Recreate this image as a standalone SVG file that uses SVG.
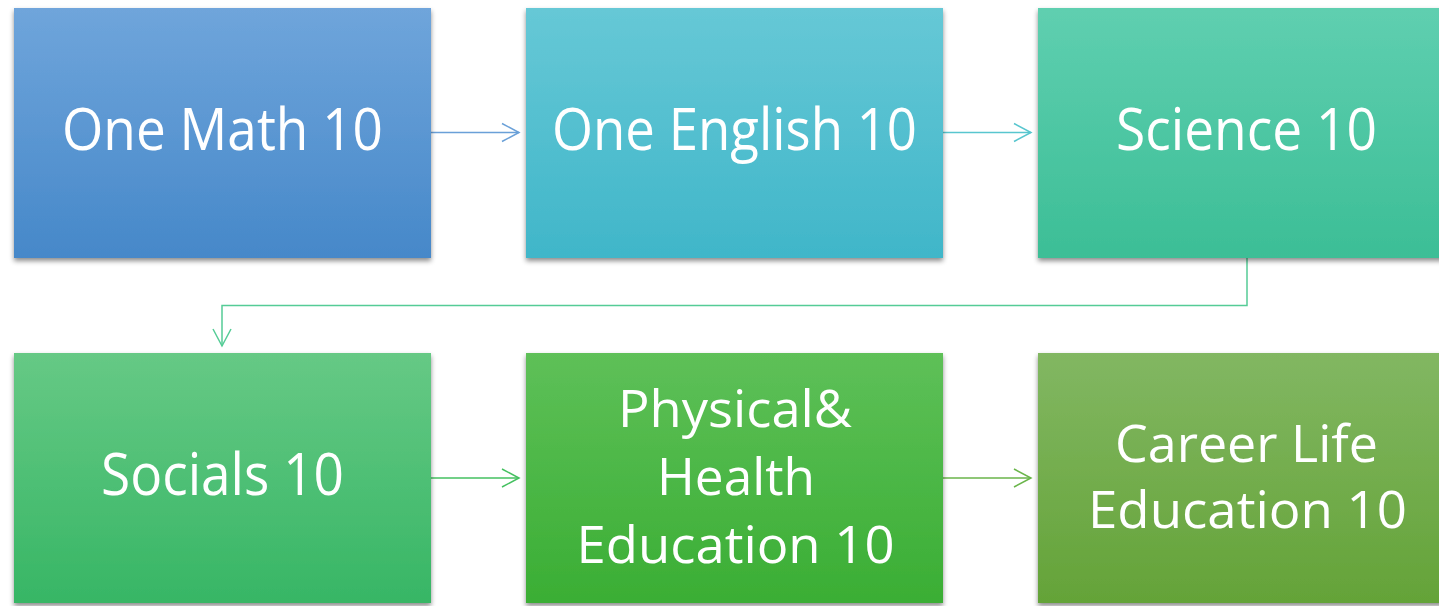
<svg xmlns="http://www.w3.org/2000/svg" width="1439" height="606" viewBox="0 0 1439 606">
<style>
.lbl{font-family:"Open Sans","Liberation Sans",sans-serif;fill:#ffffff;text-anchor:middle}
.big{font-size:59px}
.mid{font-size:52px}
.conn{fill:none;stroke-width:1.5}
</style>
<defs>
<filter id="sh" x="-5%" y="-5%" width="110%" height="115%">
<feDropShadow dx="0" dy="3" stdDeviation="2.5" flood-color="#000" flood-opacity="0.45"/>
</filter>
<linearGradient id="g1" x1="0" y1="0" x2="0" y2="1"><stop offset="0" stop-color="#6fa5db"/><stop offset="1" stop-color="#4688c9"/></linearGradient>
<linearGradient id="g2" x1="0" y1="0" x2="0" y2="1"><stop offset="0" stop-color="#66c8d6"/><stop offset="1" stop-color="#40b6c9"/></linearGradient>
<linearGradient id="g3" x1="0" y1="0" x2="0" y2="1"><stop offset="0" stop-color="#5fcfb0"/><stop offset="1" stop-color="#3cbe96"/></linearGradient>
<linearGradient id="g4" x1="0" y1="0" x2="0" y2="1"><stop offset="0" stop-color="#66c985"/><stop offset="1" stop-color="#37b665"/></linearGradient>
<linearGradient id="g5" x1="0" y1="0" x2="0" y2="1"><stop offset="0" stop-color="#5ec058"/><stop offset="1" stop-color="#3aae34"/></linearGradient>
<linearGradient id="g6" x1="0" y1="0" x2="0" y2="1"><stop offset="0" stop-color="#82b762"/><stop offset="1" stop-color="#64a338"/></linearGradient>
</defs>
<rect width="1439" height="606" fill="#ffffff"/>

<g id="connectors">
<g stroke="#6aa0d8" class="conn"><path d="M431 132.5H519"/><path d="M502 123.5L519 132.5L502 141.5"/></g>
<g stroke="#58c6cf" class="conn"><path d="M943 132.5H1031"/><path d="M1014 123.5L1031 132.5L1014 141.5"/></g>
<g stroke="#55cc96" class="conn"><path d="M1247 258V305.5H222V346"/><path d="M213 329L222 346L231 329"/></g>
<g stroke="#45c060" class="conn"><path d="M431 478H519"/><path d="M502 469L519 478L502 487"/></g>
<g stroke="#6ab54a" class="conn"><path d="M943 478H1031"/><path d="M1014 469L1031 478L1014 487"/></g>
</g>

<g id="n1"><rect x="14" y="8" width="417" height="250" fill="url(#g1)" filter="url(#sh)"/>
<text class="lbl big" x="222.5" y="150" textLength="321" lengthAdjust="spacingAndGlyphs">One Math 10</text></g>
<g id="n2"><rect x="526" y="8" width="417" height="250" fill="url(#g2)" filter="url(#sh)"/>
<text class="lbl big" x="734.5" y="150" textLength="365" lengthAdjust="spacingAndGlyphs">One English 10</text></g>
<g id="n3"><rect x="1038" y="8" width="417" height="250" fill="url(#g3)" filter="url(#sh)"/>
<text class="lbl big" x="1246.5" y="150" textLength="261" lengthAdjust="spacingAndGlyphs">Science 10</text></g>
<g id="n4"><rect x="14" y="353" width="417" height="250" fill="url(#g4)" filter="url(#sh)"/>
<text class="lbl big" x="222.5" y="495" textLength="243" lengthAdjust="spacingAndGlyphs">Socials 10</text></g>
<g id="n5"><rect x="526" y="353" width="417" height="250" fill="url(#g5)" filter="url(#sh)"/>
<text class="lbl mid" x="735" y="427" textLength="234" lengthAdjust="spacingAndGlyphs">Physical&amp;</text>
<text class="lbl mid" x="736" y="495" textLength="158" lengthAdjust="spacingAndGlyphs">Health</text>
<text class="lbl mid" x="735.5" y="563" textLength="318" lengthAdjust="spacingAndGlyphs">Education 10</text></g>
<g id="n6"><rect x="1038" y="353" width="417" height="250" fill="url(#g6)" filter="url(#sh)"/>
<text class="lbl mid" x="1246.5" y="462" textLength="263" lengthAdjust="spacingAndGlyphs">Career Life</text>
<text class="lbl mid" x="1247.5" y="528" textLength="319" lengthAdjust="spacingAndGlyphs">Education 10</text></g>
</svg>
